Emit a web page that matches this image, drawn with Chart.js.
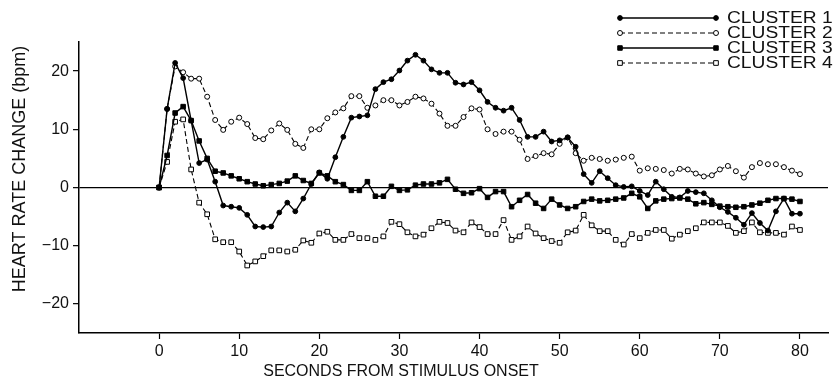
<!DOCTYPE html>
<html><head><meta charset="utf-8">
<script src="https://cdn.jsdelivr.net/npm/chart.js@4.4.0/dist/chart.umd.min.js"></script>
<style>html,body{margin:0;padding:0;background:#fff;overflow:hidden}#wrap{width:833px;height:389px;position:relative}</style>
</head><body><div id="wrap"><canvas id="c" width="833" height="389"></canvas></div>
<script>
const seconds = [0,1,2,3,4,5,6,7,8,9,10,11,12,13,14,15,16,17,18,19,20,21,22,23,24,25,26,27,28,29,30,31,32,33,34,35,36,37,38,39,40,41,42,43,44,45,46,47,48,49,50,51,52,53,54,55,56,57,58,59,60,61,62,63,64,65,66,67,68,69,70,71,72,73,74,75,76,77,78,79,80];
const cluster1 = [0,13.5,21.4,18.8,11.5,4.2,4.8,1.0,-3.1,-3.3,
  -3.5,-4.7,-6.7,-6.8,-6.7,-4.3,-2.6,-4.1,-1.9,0.6,
  2.6,1.5,5.2,8.7,12.0,12.2,12.4,16.9,18.1,18.6,
  20.1,21.8,22.8,21.8,20.3,19.7,19.7,18.0,17.7,18.1,
  16.7,14.7,13.7,13.2,13.7,11.6,8.7,8.7,9.6,7.9,
  8.1,8.6,7.0,2.3,0.8,2.8,1.6,0.4,0.1,0.2,
  -0.6,-1.3,1.0,-0.3,-1.6,-1.7,-0.6,-0.8,-1.0,-2.2,
  -3.4,-4.2,-5.2,-6.4,-4.4,-6.1,-7.4,-4.1,-1.9,-4.5,
  -4.5];
const cluster2 = [0,13.5,20.8,19.8,18.7,18.7,15.6,11.6,9.9,11.3,
  12.0,10.9,8.5,8.3,9.8,11.0,9.9,7.5,6.8,10.0,
  10.0,11.9,12.9,13.6,15.7,15.7,13.7,14.1,15.0,15.0,
  14.1,14.7,15.6,15.3,14.4,12.7,10.6,10.6,12.1,13.6,
  13.4,10.0,9.2,9.6,9.6,8.2,4.9,5.4,5.9,5.7,
  7.5,8.6,5.9,4.6,5.1,4.9,4.6,4.8,5.1,5.3,
  2.9,3.3,3.2,3.0,2.4,3.2,3.1,2.4,1.9,2.1,
  3.1,3.7,2.8,1.7,3.5,4.2,4.0,4.0,3.5,2.9,
  2.3];
const cluster3 = [0,5.5,12.8,13.9,11.5,8.0,5.0,2.8,2.5,2.0,
  1.5,1.0,0.6,0.3,0.5,0.7,1.1,2.0,1.2,0.7,
  2.5,2.0,1.0,0.5,-0.5,-0.5,1.0,-1.5,-1.5,0.2,
  -0.5,-0.4,0.4,0.6,0.6,0.8,1.4,-0.3,-1.0,-0.9,
  -0.2,-1.7,-0.7,-0.7,-3.3,-2.2,-1.2,-2.7,-3.6,-2.0,
  -3.0,-3.6,-3.3,-2.4,-2.0,-2.3,-2.2,-2.0,-1.8,-1.0,
  -1.6,-3.6,-2.3,-2.0,-1.9,-1.8,-2.0,-2.8,-2.6,-2.9,
  -3.2,-3.3,-3.4,-3.3,-3.0,-2.7,-2.2,-1.9,-1.9,-2.0,
  -2.4];
const cluster4 = [0,4.4,11.3,11.7,3.1,-2.6,-4.6,-8.9,-9.4,-9.4,
  -11.0,-13.4,-12.7,-11.8,-10.8,-10.8,-11.0,-10.7,-9.1,-9.5,
  -7.9,-7.6,-9.0,-9.0,-8.0,-8.7,-8.7,-9.0,-8.4,-5.9,
  -6.3,-7.7,-8.4,-8.1,-7.0,-5.9,-6.1,-7.4,-7.7,-6.0,
  -6.8,-8.0,-8.0,-5.6,-9.0,-8.4,-6.7,-7.9,-8.7,-9.2,
  -9.5,-7.7,-7.4,-4.7,-6.5,-7.5,-7.5,-9.0,-9.8,-8.0,
  -8.7,-7.8,-7.3,-7.3,-8.8,-8.1,-7.5,-7.0,-6.0,-6.0,
  -6.0,-6.6,-7.8,-7.5,-6.0,-7.7,-7.8,-7.8,-8.1,-6.7,
  -7.3];
const seriesNames = ['CLUSTER 1','CLUSTER 2','CLUSTER 3','CLUSTER 4'];
const xTickValues = [0,10,20,30,40,50,60,70,80];
const yTickValues = [-20,-10,0,10,20];
const xTitle = 'SECONDS FROM STIMULUS ONSET';
const yTitle = 'HEART RATE CHANGE (bpm)';

const FONT = '"Liberation Sans", Arial, Helvetica, sans-serif';
const styles = [
  {pointStyle:'circle', fill:'#000', radius:2.4, dash:[], width:1.4},
  {pointStyle:'circle', fill:'#fff', radius:2.5, dash:[5,3], width:1.1},
  {pointStyle:'rect', fill:'#000', radius:3.2, dash:[], width:1.4},
  {pointStyle:'rect', fill:'#fff', radius:3.3, dash:[5,3], width:1.1}
];
const seriesData = [cluster1, cluster2, cluster3, cluster4];

const datasets = seriesData.map((arr, i) => ({
  label: seriesNames[i],
  data: seconds.map((s, j) => ({x: s, y: arr[j]})),
  borderColor: '#000',
  borderWidth: styles[i].width,
  borderDash: styles[i].dash,
  pointStyle: styles[i].pointStyle,
  pointRadius: styles[i].radius,
  pointBackgroundColor: styles[i].fill,
  pointBorderColor: '#000',
  pointBorderWidth: 1,
  tension: 0,
  fill: false
}));

function fmt(v){ return v < 0 ? '\u2212' + Math.abs(v) : String(v); }

function drawMarker(ctx, st, x, y){
  ctx.save();
  ctx.setLineDash([]);
  ctx.fillStyle = st.fill; ctx.strokeStyle = '#000'; ctx.lineWidth = 1;
  ctx.beginPath();
  if (st.pointStyle === 'circle') { ctx.arc(x, y, st.radius, 0, Math.PI*2); }
  else { const s = st.radius*Math.SQRT1_2; ctx.rect(x-s, y-s, 2*s, 2*s); }
  ctx.fill(); ctx.stroke();
  ctx.restore();
}

const decor = {
  id: 'decor',
  afterDraw(chart){
    const ctx = chart.ctx;
    ctx.save();
    ctx.fillStyle = '#111';
    ctx.font = '16px ' + FONT;
    ctx.textAlign = 'center'; ctx.textBaseline = 'middle';
    ctx.fillText(xTitle, 401, 372);
    ctx.save();
    ctx.translate(20, 169);
    ctx.rotate(-Math.PI/2);
    ctx.font = '18px ' + FONT;
    ctx.fillText(yTitle, 0, 0);
    ctx.restore();
    const rows = [18, 33, 48, 63];
    rows.forEach((ry, i) => {
      const st = styles[i];
      ctx.save();
      ctx.strokeStyle = '#000'; ctx.lineWidth = st.width; ctx.setLineDash(st.dash);
      ctx.beginPath(); ctx.moveTo(620, ry); ctx.lineTo(716, ry); ctx.stroke();
      ctx.restore();
      drawMarker(ctx, st, 620, ry);
      drawMarker(ctx, st, 716, ry);
      ctx.save();
      ctx.translate(727, ry);
      ctx.scale(1.2, 1);
      ctx.font = '16px ' + FONT;
      ctx.textAlign = 'left'; ctx.textBaseline = 'middle';
      ctx.fillStyle = '#111';
      ctx.fillText(seriesNames[i], 0, 1);
      ctx.restore();
    });
    ctx.restore();
  }
};

new Chart(document.getElementById('c'), {
  type: 'line',
  data: { datasets },
  options: {
    responsive: false,
    animation: false,
    devicePixelRatio: 1,
    layout: { padding: { top: 42, right: 3, left: 0, bottom: 0 } },
    plugins: { legend: { display: false }, tooltip: { enabled: false } },
    scales: {
      x: {
        type: 'linear', min: -10, max: 83.5,
        afterBuildTicks(scale){ scale.ticks = xTickValues.map(v => ({value: v})); },
        afterFit(scale){ scale.height = 56; },
        ticks: { color: '#111', font: { family: FONT, size: 16 }, padding: 3, maxRotation: 0, autoSkip: false, callback: v => fmt(v) },
        grid: { drawOnChartArea: false, drawTicks: true, tickLength: 6, tickColor: '#000', tickWidth: 1.2 },
        border: { display: true, color: '#000', width: 1.5 }
      },
      y: {
        type: 'linear', min: -25, max: 25,
        afterBuildTicks(scale){ scale.ticks = yTickValues.map(v => ({value: v})); },
        afterFit(scale){ scale.width = 79; },
        ticks: { color: '#111', font: { family: FONT, size: 16 }, padding: 4, autoSkip: false, callback: v => fmt(v) },
        grid: { drawOnChartArea: true, drawTicks: true, tickLength: 6, tickColor: '#000', tickWidth: 1.2,
                color: c => (c.tick && c.tick.value === 0) ? '#000' : 'rgba(0,0,0,0)', lineWidth: 1.3 },
        border: { display: true, color: '#000', width: 1.5 }
      }
    }
  },
  plugins: [decor]
});
</script></body></html>
